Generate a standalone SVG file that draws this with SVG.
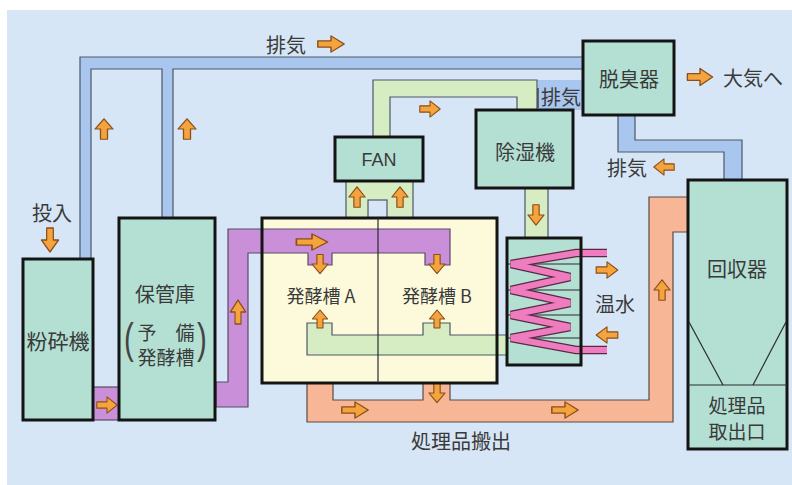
<svg xmlns="http://www.w3.org/2000/svg" xmlns:xlink="http://www.w3.org/1999/xlink" width="792" height="485" viewBox="0 0 792 485">
<style>
.bx{fill:#b4e0d4;stroke:#141414;stroke-width:3}
.pb{fill:#a8c6ee;stroke:#4d5866;stroke-width:1.2;stroke-linejoin:miter}
.pg{fill:#d6ecc2;stroke:#4d5866;stroke-width:1.2}
.pp{fill:#c98fd9;stroke:#5a4a66;stroke-width:1.2}
.ps{fill:#f7b797;stroke:#5a4a44;stroke-width:1.2}
.ln{fill:none;stroke:#2a2a2a;stroke-width:1.2}
.t{font-family:"Noto Sans CJK JP","Noto Sans CJK SC",sans-serif;font-size:20px;fill:#3a3a3a;text-anchor:middle;dominant-baseline:central}
.ar{fill:#f5a33c;stroke:#8a4f1a;stroke-width:1.3;stroke-linejoin:round}
</style>
<defs>
<path id="ar" d="M-12,-3.5 H0 V-9 L12,0 L0,9 V3.5 H-12 Z"/>
</defs>
<rect x="0" y="0" width="792" height="485" fill="#ffffff"/>
<rect x="7" y="10" width="785" height="475" fill="#d6e6f6"/>
<rect id="fermenter-body" x="262" y="218" width="235" height="165" fill="#fdfadc"/>

<g id="connectors">
  <polygon class="pb" points="80,259 80,57 583,57 583,69 173,69 173,219 162,219 162,69 91,69 91,259"/>
  <polygon class="pg" points="373,137 373,80 537,80 537,110 517,110 517,97 390,97 390,137"/>
  <rect x="538" y="80" width="45" height="30" fill="#a8c6ee"/>
  <line class="ln" x1="538" y1="88" x2="538" y2="108"/>
  <rect class="pg" x="346" y="181" width="67" height="37"/>
  <rect x="368" y="200" width="19" height="18" fill="#d6e6f6" stroke="#4d5866" stroke-width="1.2"/>
  <rect class="pg" x="525" y="188" width="23" height="50"/>
  <polygon class="pg" points="307,323 332,323 332,335 423,335 423,323 450,323 450,335 508,335 508,355 307,355"/>
  <rect class="pp" x="93" y="387" width="26" height="33"/>
  <polygon class="pp" points="216,382 228,382 228,229 450,229 450,265 425,265 425,253 332,253 332,265 308,265 308,253 248,253 248,407 216,407"/>
  <polygon class="ps" points="307,383 333,383 333,400 423,400 423,383 450,383 450,400 649,400 649,197 688,197 688,232 673,232 673,422 307,422"/>
  <polygon class="pb" points="618,115 635,115 635,140 742,140 742,180 724,180 724,152 618,152"/>

  <g class="ar">
    <use xlink:href="#ar" transform="translate(331,44) scale(1.1,0.9)"/>
    <use xlink:href="#ar" transform="translate(700,77) scale(1.05,0.95)"/>
    <use xlink:href="#ar" transform="translate(104,129) rotate(-90) scale(0.85,1)"/>
    <use xlink:href="#ar" transform="translate(187,129) rotate(-90) scale(0.85,1)"/>
    <use xlink:href="#ar" transform="translate(50,240) rotate(90) scale(1,0.95)"/>
    <use xlink:href="#ar" transform="translate(107,405) scale(0.85,0.9)"/>
    <use xlink:href="#ar" transform="translate(238,312) rotate(-90) scale(1,0.85)"/>
    <use xlink:href="#ar" transform="translate(312,242) scale(1.3,0.9)"/>
    <use xlink:href="#ar" transform="translate(320,264) rotate(90) scale(0.8,0.9)"/>
    <use xlink:href="#ar" transform="translate(437,264) rotate(90) scale(0.8,0.9)"/>
    <use xlink:href="#ar" transform="translate(320,319) rotate(-90) scale(0.75,0.85)"/>
    <use xlink:href="#ar" transform="translate(437,319) rotate(-90) scale(0.75,0.85)"/>
    <use xlink:href="#ar" transform="translate(357,197) rotate(-90) scale(0.85,0.9)"/>
    <use xlink:href="#ar" transform="translate(400,197) rotate(-90) scale(0.85,0.9)"/>
    <use xlink:href="#ar" transform="translate(430,109) scale(0.85,0.9)"/>
    <use xlink:href="#ar" transform="translate(536,215) rotate(90) scale(0.85,0.9)"/>
    <use xlink:href="#ar" transform="translate(607,270) scale(0.9)"/>
    <use xlink:href="#ar" transform="translate(607,335) rotate(180) scale(0.9)"/>
    <use xlink:href="#ar" transform="translate(355,410) scale(1.1,0.9)"/>
    <use xlink:href="#ar" transform="translate(565,410) scale(1.1,0.9)"/>
    <use xlink:href="#ar" transform="translate(437,393) rotate(90) scale(0.8,0.9)"/>
    <use xlink:href="#ar" transform="translate(662,290) rotate(-90) scale(0.85,0.9)"/>
    <use xlink:href="#ar" transform="translate(664,167) rotate(180) scale(0.85,0.9)"/>
  </g>
</g>

<g id="crusher">
  <rect class="bx" x="23" y="259" width="70" height="161"/>
  <text class="t" x="58" y="340" style="font-size:21px">粉砕機</text>
</g>
<g id="storage">
  <rect class="bx" x="119" y="218" width="96" height="202"/>
  <text class="t" x="165" y="293">保管庫</text>
  <text class="t" x="166" y="331" style="font-size:19px">予　備</text>
  <text class="t" x="166" y="356" style="font-size:19px">発酵槽</text>
  <text x="129" y="353" style="font-family:'Liberation Sans',sans-serif;font-size:42px;fill:#444;text-anchor:middle" transform="translate(129,0) scale(0.7,1) translate(-129,0)">(</text>
  <text x="202" y="353" style="font-family:'Liberation Sans',sans-serif;font-size:42px;fill:#444;text-anchor:middle" transform="translate(202,0) scale(0.7,1) translate(-202,0)">)</text>
</g>
<g id="fermenter">
  <rect x="262" y="218" width="235" height="165" fill="none" stroke="#141414" stroke-width="3"/>
  <line x1="378" y1="218" x2="378" y2="383" stroke="#2a2a2a" stroke-width="1.2"/>
  <text class="t" x="321" y="295" style="font-size:18px">発酵槽 A</text>
  <text class="t" x="437" y="295" style="font-size:18px">発酵槽 B</text>
</g>
<g id="fan">
  <rect class="bx" x="335" y="137" width="88" height="44"/>
  <text x="379" y="166" style="font-family:'Liberation Sans',sans-serif;font-size:18px;fill:#3a3a3a;text-anchor:middle">FAN</text>
</g>
<g id="dehumidifier">
  <rect class="bx" x="476" y="110" width="97" height="78"/>
  <text class="t" x="525" y="151">除湿機</text>
</g>
<g id="deodorizer">
  <rect class="bx" x="583" y="41" width="91" height="74"/>
  <text class="t" x="629" y="78">脱臭器</text>
</g>
<g id="heatex">
  <rect x="507" y="238" width="74" height="127" fill="#b4e0d4"/>
  <g stroke="#2a2a2a" stroke-width="1">
    <line x1="507" y1="264" x2="581" y2="264"/>
    <line x1="507" y1="290" x2="581" y2="290"/>
    <line x1="507" y1="315" x2="581" y2="315"/>
    <line x1="507" y1="338" x2="581" y2="338"/>
  </g>
  <polyline points="607,253 576,253 511,264 570,277 511,290 570,303 511,315 570,327 511,338 576,350 607,350" fill="none" stroke="#5a2a44" stroke-width="8.5" stroke-linejoin="miter"/>
  <polyline points="607,253 576,253 511,264 570,277 511,290 570,303 511,315 570,327 511,338 576,350 607,350" fill="none" stroke="#f07cc0" stroke-width="6" stroke-linejoin="miter"/>
  <rect x="507" y="238" width="74" height="127" fill="none" stroke="#141414" stroke-width="3"/>
</g>
<g id="recovery">
  <rect class="bx" x="688" y="180" width="99" height="269"/>
  <line class="ln" x1="688" y1="385" x2="787" y2="385"/>
  <line class="ln" x1="689" y1="322" x2="723" y2="385"/>
  <line class="ln" x1="786" y1="322" x2="753" y2="385"/>
  <text class="t" x="737" y="268">回収器</text>
  <text class="t" x="737" y="404" style="font-size:19px">処理品</text>
  <text class="t" x="737" y="430" style="font-size:19px">取出口</text>
</g>

<g id="labels">
  <text class="t" x="286" y="44">排気</text>
  <text class="t" x="753" y="77">大気へ</text>
  <text class="t" x="561" y="96">排気</text>
  <text class="t" x="627" y="167">排気</text>
  <text class="t" x="52" y="212">投入</text>
  <text class="t" x="615" y="303">温水</text>
  <text class="t" x="461" y="440">処理品搬出</text>
</g>
</svg>
